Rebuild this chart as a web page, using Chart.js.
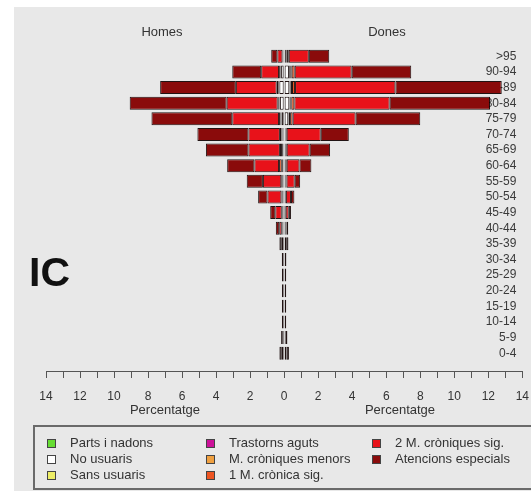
<!DOCTYPE html>
<html>
<head>
<meta charset="utf-8">
<script src="https://cdn.jsdelivr.net/npm/chart.js@4/dist/chart.umd.min.js"></script>
<style>
  html, body { margin: 0; padding: 0; background: #ffffff; }
  body { width: 531px; height: 491px; position: relative; overflow: hidden;
         font-family: "Liberation Sans", Arial, sans-serif; color: #333; }
  #panel { position: absolute; left: 14px; top: 7px; right: 0; bottom: 0; background: #e8e8e8; }
  #chart { position: absolute; left: 0; top: 0; }
  .lbl { position: absolute; font-size: 13px; line-height: 15px; color: #333; white-space: nowrap; transform: translateX(-50%); }
  #ic { position: absolute; left: 29px; top: 250px; font-size: 41px; font-weight: bold; color: #111; line-height: 44px; }
  #legend { position: absolute; left: 33px; top: 425px; width: 510px; height: 61px;
            border: 2px solid #6a6a6a; }
  .item { position: absolute; font-size: 13px; line-height: 15px; color: #333; white-space: nowrap; }
  .sw { position: absolute; width: 7px; height: 7px; border: 1px solid #444; }
</style>
</head>
<body>
<div id="panel"></div>
<canvas id="chart" width="540" height="491"></canvas>
<div class="lbl" style="left:162px; top:24px;">Homes</div>
<div class="lbl" style="left:387px; top:24px;">Dones</div>
<div class="lbl" style="left:165px; top:402px;">Percentatge</div>
<div class="lbl" style="left:400px; top:402px;">Percentatge</div>
<div id="ic">IC</div>
<div id="legend"></div>
<script>
// Age groups, bottom to top
const ageGroups = ['0-4','5-9','10-14','15-19','20-24','25-29','30-34','35-39','40-44','45-49',
                   '50-54','55-59','60-64','65-69','70-74','75-79','80-84','85-89','90-94','>95'];

// Morbidity groups, stacked from the centre outwards
const groupNames = ['Parts i nadons','No usuaris','Sans usuaris','Trastorns aguts',
                    'M. cròniques menors','1 M. crònica sig.','2 M. cròniques sig.','Atencions especials'];
const groupColors = ['#66dd33','#ffffff','#eeee66','#cc1199','#f0a040','#ee5522','#e8121a','#8a0b0b'];

// Men (Homes), percentage per age group
const homesPartsNadons   = [0,0,0,0,0,0,0,0,0,0, 0,0,0,0,0,0,0,0,0,0];
const homesNoUsuaris     = [0.14,0.08,0,0,0,0,0,0,0.03,0.02, 0.02,0.02,0.03,0.03,0.06,0.15,0.25,0.28,0.18,0.03];
const homesSansUsuaris   = [0,0,0,0,0,0,0,0,0.02,0.02, 0.01,0.01,0.02,0.02,0.02,0.01,0.01,0.01,0.01,0];
const homesTrastAguts    = [0,0,0,0,0,0,0,0,0.02,0.02, 0.02,0.02,0.03,0.03,0.03,0.03,0.03,0.03,0.03,0.02];
const homesCronMenors    = [0,0,0,0,0,0,0,0,0.03,0.03, 0.04,0.04,0.06,0.05,0.04,0.03,0.03,0.04,0.03,0.02];
const homes1CronSig      = [0,0,0,0,0,0,0,0.14,0.04,0.05, 0.07,0.08,0.16,0.12,0.10,0.08,0.06,0.08,0.05,0.03];
const homes2CronSig      = [0,0,0,0,0,0,0,0,0.15,0.38, 0.82,1.08,1.45,1.85,1.85,2.75,3.00,2.40,1.05,0.30];
const homesAtencEsp      = [0.14,0.10,0.13,0.13,0.13,0.13,0.14,0.14,0.20,0.30, 0.55,0.95,1.60,2.50,3.00,4.75,5.70,4.45,1.70,0.36];

// Women (Dones), percentage per age group
const donesPartsNadons   = [0,0,0,0,0,0,0,0,0,0, 0,0,0,0,0,0,0,0,0,0];
const donesNoUsuaris     = [0.14,0.09,0,0,0,0,0,0,0.02,0.01, 0.02,0.03,0.02,0.03,0.04,0.24,0.30,0.30,0.28,0.10];
const donesSansUsuaris   = [0,0,0,0,0,0,0,0,0,0, 0,0,0,0,0,0,0.02,0.02,0.02,0];
const donesTrastAguts    = [0,0,0,0,0,0,0,0,0.02,0.02, 0.02,0.02,0.02,0.02,0.02,0.03,0.04,0.06,0.06,0.03];
const donesCronMenors    = [0,0,0,0,0,0,0,0,0,0.02, 0.02,0.03,0.03,0.03,0.03,0.08,0.06,0.08,0.08,0.04];
const dones1CronSig      = [0,0,0,0,0,0,0,0.12,0.03,0.04, 0.04,0.06,0.08,0.07,0.06,0.15,0.18,0.18,0.18,0.10];
const dones2CronSig      = [0,0,0,0,0,0,0,0,0.07,0.18, 0.30,0.48,0.75,1.35,2.00,3.70,5.60,5.90,3.35,1.18];
const donesAtencEsp      = [0.14,0.10,0.12,0.12,0.12,0.12,0.13,0.13,0.10,0.13, 0.20,0.32,0.70,1.20,1.65,3.80,5.90,6.25,3.50,1.20];

// Axis ticks
const xTickMin = -14, xTickMax = 14, xTickStep = 1, xLabelEvery = 2;

const homesSeries = [homesPartsNadons, homesNoUsuaris, homesSansUsuaris, homesTrastAguts,
                     homesCronMenors, homes1CronSig, homes2CronSig, homesAtencEsp];
const donesSeries = [donesPartsNadons, donesNoUsuaris, donesSansUsuaris, donesTrastAguts,
                     donesCronMenors, dones1CronSig, dones2CronSig, donesAtencEsp];

const FONT = '"Liberation Sans", Arial, sans-serif';
const OUTLINE = 'rgba(15,0,0,0.92)';
const THIN = 0.15;   // segments narrower than this collapse into their outline

function barStyle(color) {
  return {
    backgroundColor: ctx => (ctx.raw && Math.abs(ctx.raw.x) < THIN ? '#140000' : color),
    borderColor: OUTLINE,
    borderWidth: 1,
    borderSkipped: false,
    barThickness: 13,
    inflateAmount: 0
  };
}

const datasets = [];
groupNames.forEach((name, k) => {
  datasets.push(Object.assign({
    label: name,
    data: homesSeries[k].map((v, i) => ({ x: -v, y: i }))
  }, barStyle(groupColors[k])));
});
groupNames.forEach((name, k) => {
  datasets.push(Object.assign({
    label: name + ' (Dones)',
    data: donesSeries[k].map((v, i) => ({ x: v, y: i }))
  }, barStyle(groupColors[k])));
});

new Chart(document.getElementById('chart'), {
  type: 'bar',
  data: { datasets },
  options: {
    indexAxis: 'y',
    responsive: false,
    animation: false,
    events: [],
    layout: { padding: { left: 46, right: 0, top: 40.7, bottom: 76.6 } },
    plugins: { legend: { display: false }, tooltip: { enabled: false } },
    scales: {
      x: {
        type: 'linear', stacked: true, position: 'bottom',
        min: xTickMin, max: xTickMax,
        ticks: {
          stepSize: xTickStep, autoSkip: false, maxRotation: 0, padding: 11,
          color: '#333', font: { family: FONT, size: 12 },
          callback: v => (v % xLabelEvery === 0 ? String(Math.abs(v)) : '')
        },
        grid: { drawOnChartArea: false, drawTicks: true, tickLength: 7, color: '#555', lineWidth: 1 },
        border: { display: true, color: '#555', width: 1 }
      },
      y: {
        type: 'linear', stacked: true, position: 'right', offset: false,
        min: -1.14, max: 20,
        ticks: {
          stepSize: 1, includeBounds: false, autoSkip: false, mirror: true, padding: -6,
          color: '#3a3a3a', font: { family: FONT, size: 12 },
          callback: v => (ageGroups[v] !== undefined ? ageGroups[v] : '')
        },
        grid: { display: false, offset: false },
        border: { display: false }
      }
    }
  }
});

// Legend, filled column by column (3 rows)
const legend = document.getElementById('legend');
const colX = [12, 171, 337];
const rowY = [10, 26, 42];
groupNames.forEach((name, k) => {
  const col = Math.floor(k / 3), row = k % 3;
  const sw = document.createElement('div');
  sw.className = 'sw';
  sw.style.left = colX[col] + 'px';
  sw.style.top = (rowY[row] + 2) + 'px';
  sw.style.background = groupColors[k];
  legend.appendChild(sw);
  const t = document.createElement('div');
  t.className = 'item';
  t.style.left = (colX[col] + 23) + 'px';
  t.style.top = (rowY[row] - 2) + 'px';
  t.textContent = name;
  legend.appendChild(t);
});
</script>
</body>
</html>
